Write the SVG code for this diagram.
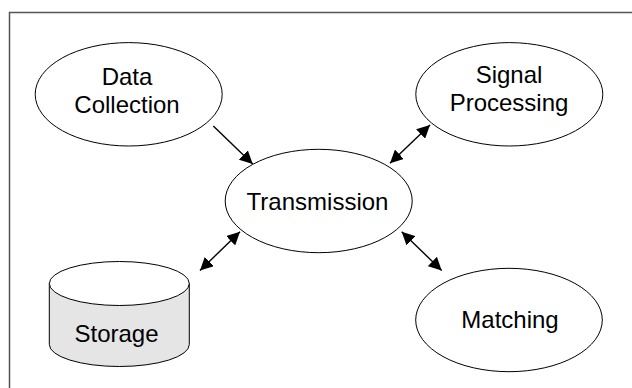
<svg xmlns="http://www.w3.org/2000/svg" width="632" height="388" viewBox="0 0 632 388">
  <style>
    .node { fill: #ffffff; stroke: #000000; stroke-width: 1; }
    .label { font-family: "Liberation Sans", Arial, sans-serif; font-size: 24px; fill: #000000; text-anchor: middle; }
    .edge { stroke: #000000; stroke-width: 1.4; fill: none; }
  </style>
  <defs>
    <marker id="head" viewBox="0 0 10 10" refX="10" refY="5" markerWidth="13" markerHeight="13" markerUnits="userSpaceOnUse" orient="auto-start-reverse">
      <path d="M0,0 L10,5 L0,10 z" fill="#000000"/>
    </marker>
  </defs>

  <!-- frame -->
  <rect x="9.5" y="12.5" width="640" height="400" fill="#ffffff" stroke="#555555" stroke-width="1.5"/>

  <g id="data-collection">
    <ellipse class="node" cx="128.7" cy="94.3" rx="93.5" ry="51.7"/>
    <text class="label" x="127" y="85">Data</text>
    <text class="label" x="127" y="113.3">Collection</text>
  </g>

  <g id="signal-processing">
    <ellipse class="node" cx="509.3" cy="94.3" rx="93.5" ry="51.7"/>
    <text class="label" x="509" y="83">Signal</text>
    <text class="label" x="509" y="111">Processing</text>
  </g>

  <g id="transmission">
    <ellipse class="node" cx="318.7" cy="201" rx="93.5" ry="51.7"/>
    <text class="label" x="317.5" y="209.5">Transmission</text>
  </g>

  <g id="matching">
    <ellipse class="node" cx="509" cy="320" rx="93.3" ry="51.7"/>
    <text class="label" x="510" y="327.5">Matching</text>
  </g>

  <g id="storage">
    <path d="M49.3,283.5 L49.3,344.5 A70,22 0 0 0 189.3,344.5 L189.3,283.5 Z" fill="#e5e5e5" stroke="#000000" stroke-width="1"/>
    <ellipse class="node" cx="119.3" cy="283.5" rx="70" ry="22"/>
    <text class="label" x="116.5" y="341.5">Storage</text>
  </g>

  <g id="connectors">
    <line class="edge" x1="213.3" y1="126" x2="252.7" y2="164" marker-end="url(#head)"/>
    <line class="edge" x1="390" y1="163.3" x2="430" y2="125" marker-start="url(#head)" marker-end="url(#head)"/>
    <line class="edge" x1="240" y1="231.7" x2="200" y2="270.5" marker-start="url(#head)" marker-end="url(#head)"/>
    <line class="edge" x1="401.7" y1="231.7" x2="441.7" y2="270.5" marker-start="url(#head)" marker-end="url(#head)"/>
  </g>
</svg>
